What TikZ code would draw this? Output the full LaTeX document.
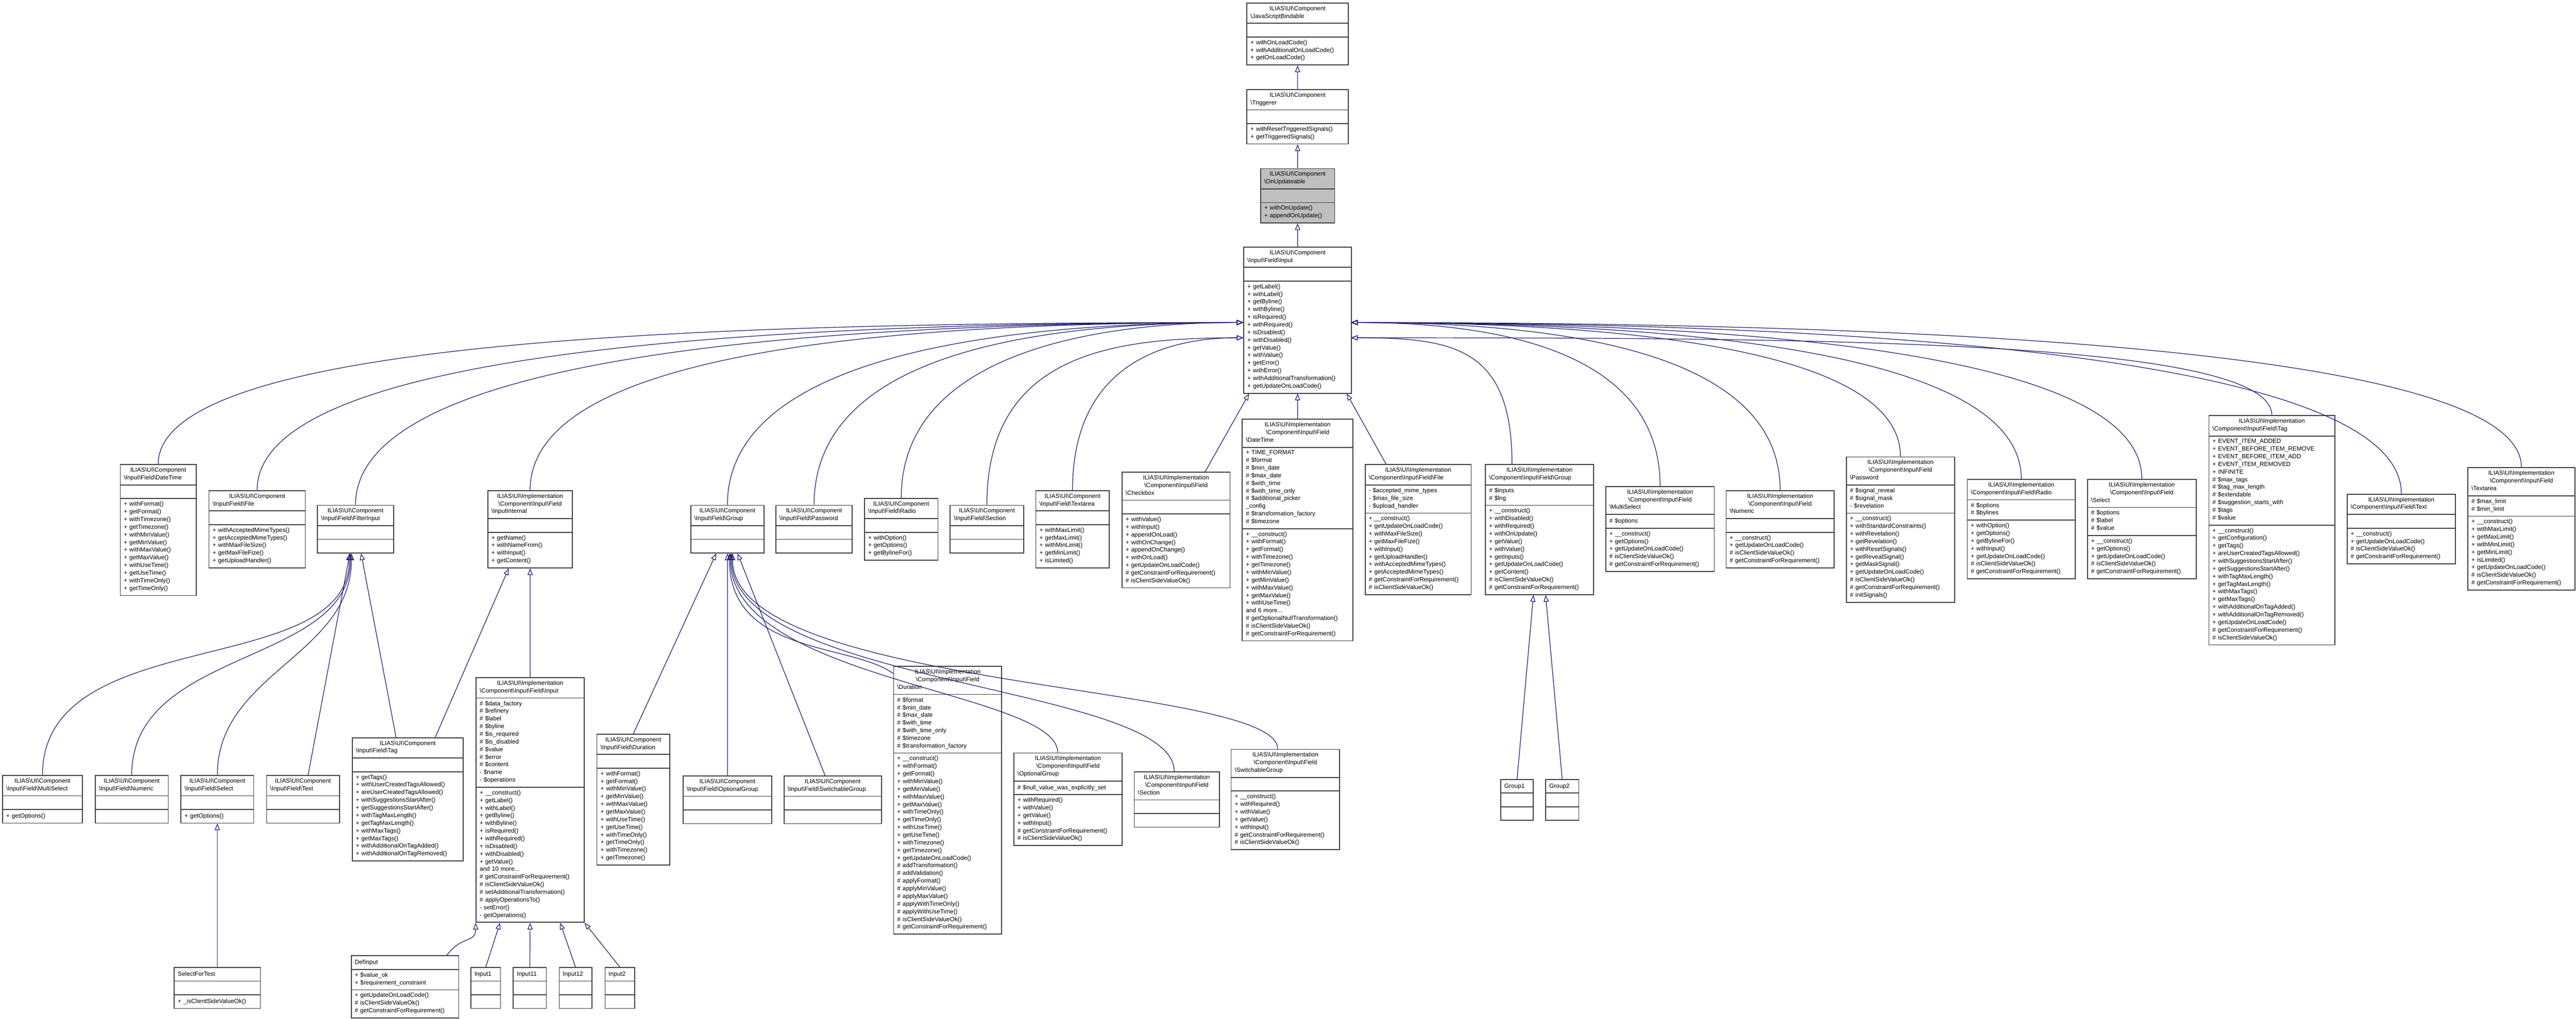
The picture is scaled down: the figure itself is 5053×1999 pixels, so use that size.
\documentclass[tikz,border=0pt]{standalone}
\usepackage{fontspec}
\setmainfont{Liberation Sans}
\usetikzlibrary{shapes.multipart,arrows.meta,calc}
\definecolor{edgec}{RGB}{25,25,112}
\definecolor{hl}{RGB}{191,191,191}
\newcommand\bsl{\textbackslash}
\newcommand\IC{ILIAS\bsl UI\bsl Component}
\newcommand\II{ILIAS\bsl UI\bsl Implementation}
\tikzset{
 cls/.style={rectangle split, rectangle split parts=3, draw=black!75, line width=0.5pt, fill=white,
   anchor=north west, inner xsep=0.07cm, inner ysep=0.05cm, font=\fontsize{3.4}{4.27}\selectfont, text=black},
 inh/.style={draw=edgec, line width=0.35pt, -{Triangle[open,length=0.13cm,width=0.1cm]}}
}
\newcommand\cls[8][]{\pgfmathsetmacro\clsw{(#5-#3)*0.01*28.4527-4}%
\node[cls,text width=\clsw pt,#1] (#2) at (#3,#4) {\centering #6\strut\nodepart{two}\raggedright #7\strut\nodepart{three}\raggedright #8\strut};}
\begin{document}
\begin{tikzpicture}[x=0.01cm,y=-0.01cm]
\useasboundingbox (0,0) rectangle (5053,1999);
% top chain
\cls{JSB}{2445}{5}{2644}{\IC\\\bsl JavaScriptBindable}{}{+ withOnLoadCode()\\+ withAdditionalOnLoadCode()\\+ getOnLoadCode()}
\cls{Trig}{2445}{175}{2644}{\IC\\\bsl Triggerer}{}{+ withResetTriggeredSignals()\\+ getTriggeredSignals()}
\cls[fill=hl]{OnUp}{2472}{330}{2617}{\IC\\\bsl OnUpdateable}{}{+ withOnUpdate()\\+ appendOnUpdate()}
\cls{Input}{2439}{484}{2650}{\IC\\\bsl Input\bsl Field\bsl Input}{}{+ getLabel()\\+ withLabel()\\+ getByline()\\+ withByline()\\+ isRequired()\\+ withRequired()\\+ isDisabled()\\+ withDisabled()\\+ getValue()\\+ withValue()\\+ getError()\\+ withError()\\+ withAdditionalTransformation()\\+ getUpdateOnLoadCode()}
% row 1
\cls{CDateTime}{235}{911}{384}{\IC\\\bsl Input\bsl Field\bsl DateTime}{}{+ withFormat()\\+ getFormat()\\+ withTimezone()\\+ getTimezone()\\+ withMinValue()\\+ getMinValue()\\+ withMaxValue()\\+ getMaxValue()\\+ withUseTime()\\+ getUseTime()\\+ withTimeOnly()\\+ getTimeOnly()}
\cls{CFile}{409}{962}{598}{\IC\\\bsl Input\bsl Field\bsl File}{}{+ withAcceptedMimeTypes()\\+ getAcceptedMimeTypes()\\+ withMaxFileSize()\\+ getMaxFileFize()\\+ getUploadHandler()}
\cls{CFilter}{622}{991}{771}{\IC\\\bsl Input\bsl Field\bsl FilterInput}{}{}
\cls{Internal}{956}{962}{1122}{\II\\\bsl Component\bsl Input\bsl Field\\\bsl InputInternal}{}{+ getName()\\+ withNameFrom()\\+ withInput()\\+ getContent()}
\cls{CGroup}{1354}{991}{1498}{\IC\\\bsl Input\bsl Field\bsl Group}{}{}
\cls{CPassword}{1521}{991}{1671}{\IC\\\bsl Input\bsl Field\bsl Password}{}{}
\cls{CRadio}{1695}{977}{1839}{\IC\\\bsl Input\bsl Field\bsl Radio}{}{+ withOption()\\+ getOptions()\\+ getBylineFor()}
\cls{CSection}{1863}{991}{2007}{\IC\\\bsl Input\bsl Field\bsl Section}{}{}
\cls{CTextarea}{2031}{962}{2175}{\IC\\\bsl Input\bsl Field\bsl Textarea}{}{+ withMaxLimit()\\+ getMaxLimit()\\+ withMinLimit()\\+ getMinLimit()\\+ isLimited()}
\cls{ICheckbox}{2200}{926}{2412}{\II\\\bsl Component\bsl Input\bsl Field\\\bsl Checkbox}{}{+ withValue()\\+ withInput()\\+ appendOnLoad()\\+ withOnChange()\\+ appendOnChange()\\+ withOnLoad()\\+ getUpdateOnLoadCode()\\\# getConstraintForRequirement()\\\# isClientSideValueOk()}
\cls{IDateTime}{2436}{822}{2653}{\II\\\bsl Component\bsl Input\bsl Field\\\bsl DateTime}{+ TIME\_FORMAT\\\# \$format\\\# \$min\_date\\\# \$max\_date\\\# \$with\_time\\\# \$with\_time\_only\\\# \$additional\_picker\\\_config\\\# \$transformation\_factory\\\# \$timezone}{+ \_\_construct()\\+ withFormat()\\+ getFormat()\\+ withTimezone()\\+ getTimezone()\\+ withMinValue()\\+ getMinValue()\\+ withMaxValue()\\+ getMaxValue()\\+ withUseTime()\\and 6 more...\\\# getOptionalNullTransformation()\\\# isClientSideValueOk()\\\# getConstraintForRequirement()}
\cls{IFile}{2677}{911}{2885}{\II\\\bsl Component\bsl Input\bsl Field\bsl File}{- \$accepted\_mime\_types\\- \$max\_file\_size\\- \$upload\_handler}{+ \_\_construct()\\+ getUpdateOnLoadCode()\\+ withMaxFileSize()\\+ getMaxFileFize()\\+ withInput()\\+ getUploadHandler()\\+ withAcceptedMimeTypes()\\+ getAcceptedMimeTypes()\\\# getConstraintForRequirement()\\\# isClientSideValueOk()}
\cls{IGroup}{2913}{911}{3125}{\II\\\bsl Component\bsl Input\bsl Field\bsl Group}{\# \$inputs\\\# \$lng}{+ \_\_construct()\\+ withDisabled()\\+ withRequired()\\+ withOnUpdate()\\+ getValue()\\+ withValue()\\+ getInputs()\\+ getUpdateOnLoadCode()\\+ getContent()\\\# isClientSideValueOk()\\\# getConstraintForRequirement()}
\cls{IMulti}{3149}{954}{3362}{\II\\\bsl Component\bsl Input\bsl Field\\\bsl MultiSelect}{\# \$options}{+ \_\_construct()\\+ getOptions()\\+ getUpdateOnLoadCode()\\\# isClientSideValueOk()\\\# getConstraintForRequirement()}
\cls{INumeric}{3385}{962}{3597}{\II\\\bsl Component\bsl Input\bsl Field\\\bsl Numeric}{}{+ \_\_construct()\\+ getUpdateOnLoadCode()\\\# isClientSideValueOk()\\\# getConstraintForRequirement()}
\cls{IPassword}{3621}{896}{3833}{\II\\\bsl Component\bsl Input\bsl Field\\\bsl Password}{\# \$signal\_reveal\\\# \$signal\_mask\\- \$revelation}{+ \_\_construct()\\+ withStandardConstraints()\\+ withRevelation()\\+ getRevelation()\\+ withResetSignals()\\+ getRevealSignal()\\+ getMaskSignal()\\+ getUpdateOnLoadCode()\\\# isClientSideValueOk()\\\# getConstraintForRequirement()\\\# initSignals()}
\cls{IRadio}{3858}{940}{4070}{\II\\\bsl Component\bsl Input\bsl Field\bsl Radio}{\# \$options\\\# \$bylines}{+ withOption()\\+ getOptions()\\+ getBylineFor()\\+ withInput()\\+ getUpdateOnLoadCode()\\\# isClientSideValueOk()\\\# getConstraintForRequirement()}
\cls{ISelect}{4094}{940}{4307}{\II\\\bsl Component\bsl Input\bsl Field\\\bsl Select}{\# \$options\\\# \$label\\\# \$value}{+ \_\_construct()\\+ getOptions()\\+ getUpdateOnLoadCode()\\\# isClientSideValueOk()\\\# getConstraintForRequirement()}
\cls{ITag}{4332}{815}{4579}{\II\\\bsl Component\bsl Input\bsl Field\bsl Tag}{+ EVENT\_ITEM\_ADDED\\+ EVENT\_BEFORE\_ITEM\_REMOVE\\+ EVENT\_BEFORE\_ITEM\_ADD\\+ EVENT\_ITEM\_REMOVED\\+ INFINITE\\\# \$max\_tags\\\# \$tag\_max\_length\\\# \$extendable\\\# \$suggestion\_starts\_with\\\# \$tags\\\# \$value}{+ \_\_construct()\\+ getConfiguration()\\+ getTags()\\+ areUserCreatedTagsAllowed()\\+ withSuggestionsStartAfter()\\+ getSuggestionsStartAfter()\\+ withTagMaxLength()\\+ getTagMaxLength()\\+ withMaxTags()\\+ getMaxTags()\\+ withAdditionalOnTagAdded()\\+ withAdditionalOnTagRemoved()\\+ getUpdateOnLoadCode()\\\# getConstraintForRequirement()\\\# isClientSideValueOk()}
\cls{IText}{4603}{969}{4816}{\II\\\bsl Component\bsl Input\bsl Field\bsl Text}{}{+ \_\_construct()\\+ getUpdateOnLoadCode()\\\# isClientSideValueOk()\\\# getConstraintForRequirement()}
\cls{ITextarea}{4840}{917}{5050}{\II\\\bsl Component\bsl Input\bsl Field\\\bsl Textarea}{\# \$max\_limit\\\# \$min\_limit}{+ \_\_construct()\\+ withMaxLimit()\\+ getMaxLimit()\\+ withMinLimit()\\+ getMinLimit()\\+ isLimited()\\+ getUpdateOnLoadCode()\\\# isClientSideValueOk()\\\# getConstraintForRequirement()}
% row 2
\cls{CMulti}{4}{1521}{161}{\IC\\\bsl Input\bsl Field\bsl MultiSelect}{}{+ getOptions()}
\cls{CNumeric}{186}{1521}{329}{\IC\\\bsl Input\bsl Field\bsl Numeric}{}{}
\cls{CSelect}{354}{1521}{497}{\IC\\\bsl Input\bsl Field\bsl Select}{}{+ getOptions()}
\cls{CText}{522}{1521}{665}{\IC\\\bsl Input\bsl Field\bsl Text}{}{}
\cls{CTag}{690}{1447}{908}{\IC\\\bsl Input\bsl Field\bsl Tag}{}{+ getTags()\\+ withUserCreatedTagsAllowed()\\+ areUserCreatedTagsAllowed()\\+ withSuggestionsStartAfter()\\+ getSuggestionsStartAfter()\\+ withTagMaxLength()\\+ getTagMaxLength()\\+ withMaxTags()\\+ getMaxTags()\\+ withAdditionalOnTagAdded()\\+ withAdditionalOnTagRemoved()}
\cls{IInput}{933}{1329}{1145}{\II\\\bsl Component\bsl Input\bsl Field\bsl Input}{\# \$data\_factory\\\# \$refinery\\\# \$label\\\# \$byline\\\# \$is\_required\\\# \$is\_disabled\\\# \$value\\\# \$error\\\# \$content\\- \$name\\- \$operations}{+ \_\_construct()\\+ getLabel()\\+ withLabel()\\+ getByline()\\+ withByline()\\+ isRequired()\\+ withRequired()\\+ isDisabled()\\+ withDisabled()\\+ getValue()\\and 10 more...\\\# getConstraintForRequirement()\\\# isClientSideValueOk()\\\# setAdditionalTransformation()\\\# applyOperationsTo()\\- setError()\\- getOperations()}
\cls{CDuration}{1170}{1440}{1313}{\IC\\\bsl Input\bsl Field\bsl Duration}{}{+ withFormat()\\+ getFormat()\\+ withMinValue()\\+ getMinValue()\\+ withMaxValue()\\+ getMaxValue()\\+ withUseTime()\\+ getUseTime()\\+ withTimeOnly()\\+ getTimeOnly()\\+ withTimezone()\\+ getTimezone()}
\cls{COptGroup}{1339}{1522}{1513}{\IC\\\bsl Input\bsl Field\bsl OptionalGroup}{}{}
\cls{CSwGroup}{1537}{1522}{1728}{\IC\\\bsl Input\bsl Field\bsl SwitchableGroup}{}{}
\cls{IDuration}{1752}{1307}{1964}{\II\\\bsl Component\bsl Input\bsl Field\\\bsl Duration}{\# \$format\\\# \$min\_date\\\# \$max\_date\\\# \$with\_time\\\# \$with\_time\_only\\\# \$timezone\\\# \$transformation\_factory}{+ \_\_construct()\\+ withFormat()\\+ getFormat()\\+ withMinValue()\\+ getMinValue()\\+ withMaxValue()\\+ getMaxValue()\\+ withTimeOnly()\\+ getTimeOnly()\\+ withUseTime()\\+ getUseTime()\\+ withTimezone()\\+ getTimezone()\\+ getUpdateOnLoadCode()\\\# addTransformation()\\\# addValidation()\\\# applyFormat()\\\# applyMinValue()\\\# applyMaxValue()\\\# applyWithTimeOnly()\\\# applyWithUseTime()\\\# isClientSideValueOk()\\\# getConstraintForRequirement()}
\cls{IOptGroup}{1988}{1477}{2200}{\II\\\bsl Component\bsl Input\bsl Field\\\bsl OptionalGroup}{\# \$null\_value\_was\_explicitly\_set}{+ withRequired()\\+ withValue()\\+ getValue()\\+ withInput()\\\# getConstraintForRequirement()\\\# isClientSideValueOk()}
\cls{ISection}{2224}{1514}{2391}{\II\\\bsl Component\bsl Input\bsl Field\\\bsl Section}{}{}
\cls{ISwGroup}{2414}{1470}{2627}{\II\\\bsl Component\bsl Input\bsl Field\\\bsl SwitchableGroup}{}{+ \_\_construct()\\+ withRequired()\\+ withValue()\\+ getValue()\\+ withInput()\\\# getConstraintForRequirement()\\\# isClientSideValueOk()}
\cls{Group1}{2943}{1529}{3007}{Group1}{}{}
\cls{Group2}{3031}{1529}{3096}{Group2}{}{}
% row 3
\cls{SFT}{341}{1898}{510}{SelectForTest}{}{+ \_isClientSideValueOk()}
\cls{DefInput}{688}{1875}{899}{DefInput}{+ \$value\_ok\\+ \$requirement\_constraint}{+ getUpdateOnLoadCode()\\\# isClientSideValueOk()\\\# getConstraintForRequirement()}
\cls{Input1}{923}{1898}{981}{Input1}{}{}
\cls{Input11}{1006}{1898}{1071}{Input11}{}{}
\cls{Input12}{1096}{1898}{1160}{Input12}{}{}
\cls{Input2}{1186}{1898}{1244}{Input2}{}{}
% edges
\coordinate (inW) at (2439,633); \coordinate (inW2) at (2439,663);
\coordinate (inE) at (2650,633); \coordinate (inE2) at (2650,663);
\draw[inh] (Trig.north) -- (JSB.south);
\draw[inh] (OnUp.north) -- (Trig.south);
\draw[inh] (Input.north) -- (OnUp.south);
\draw[inh] (CDateTime.north) .. controls +(0,-250) and +(-1000,0) .. (inW);
\draw[inh] (CFile.north) .. controls +(0,-280) and +(-900,0) .. (inW);
\draw[inh] (CFilter.north) .. controls +(0,-300) and +(-800,0) .. (inW);
\draw[inh] (Internal.north) .. controls +(0,-280) and +(-650,0) .. (inW);
\draw[inh] (CGroup.north) .. controls +(0,-300) and +(-450,0) .. (inW);
\draw[inh] (CPassword.north) .. controls +(0,-300) and +(-400,0) .. (inW);
\draw[inh] (CRadio.north) .. controls +(0,-280) and +(-300,0) .. (inW);
\draw[inh] (CSection.north) .. controls +(0,-300) and +(-250,0) .. (inW2);
\draw[inh] (CTextarea.north) .. controls +(0,-250) and +(-150,0) .. (inW2);
\draw[inh] ($(ICheckbox.north)+(57,0)$) -- ($(Input.south west)+(11,0)$);
\draw[inh] (IDateTime.north) -- (Input.south);
\draw[inh] ($(IFile.north)+(-63,0)$) -- ($(Input.south east)+(-10,0)$);
\draw[inh] ($(IGroup.north)+(-54,0)$) .. controls +(0,-230) and +(200,0) .. (inE2);
\draw[inh] (IMulti.north) .. controls +(0,-260) and +(300,0) .. (inE);
\draw[inh] (INumeric.north) .. controls +(0,-270) and +(420,0) .. (inE);
\draw[inh] (IPassword.north) .. controls +(0,-210) and +(540,0) .. (inE);
\draw[inh] (IRadio.north) .. controls +(0,-250) and +(650,0) .. (inE);
\draw[inh] (ISelect.north) .. controls +(0,-250) and +(770,0) .. (inE);
\draw[inh] (ITag.north) .. controls +(0,-150) and +(900,0) .. (inE2);
\draw[inh] (IText.north) .. controls +(0,-270) and +(1000,0) .. (inE);
\draw[inh] (ITextarea.north) .. controls +(0,-230) and +(1150,0) .. (inE);
% FilterInput children
\draw[inh] (CMulti.north) .. controls +(0,-300) and +(0,250) .. ($(CFilter.south)+(-12,0)$);
\draw[inh] (CNumeric.north) .. controls +(0,-250) and +(0,220) .. ($(CFilter.south)+(-10,0)$);
\draw[inh] (CSelect.north) .. controls +(0,-200) and +(0,200) .. ($(CFilter.south)+(-8,0)$);
\draw[inh] ($(CText.north)+(10,0)$) -- ($(CFilter.south)+(-11,0)$);
\draw[inh] ($(CTag.north)+(-23,0)$) -- ($(CFilter.south)+(11,0)$);
\draw[inh] ($(CTag.north)+(54,0)$) -- ($(Internal.south)+(-42,0)$);
\draw[inh] (IInput.north) -- (Internal.south);
\draw[inh] (SFT.north) -- (CSelect.south);
% Impl Input children
\draw[inh] ($(DefInput.north)+(82,0)$) .. controls +(30,-40) and +(0,40) .. (IInput.south west);
\draw[inh] (Input1.north) -- ($(IInput.south)+(-59,0)$);
\draw[inh] (Input11.north) -- (IInput.south);
\draw[inh] (Input12.north) -- ($(IInput.south)+(59,0)$);
\draw[inh] (Input2.north) -- (IInput.south east);
% Group children
\draw[inh] (CDuration.north) -- ($(CGroup.south)+(-22,0)$);
\draw[inh] (COptGroup.north) -- (CGroup.south);
\draw[inh] ($(CSwGroup.north)+(-15,0)$) -- ($(CGroup.south)+(20,0)$);
\draw[inh] ($(IDuration.north west)+(0,15)$) .. controls +(-80,-60) and +(0,200) .. ($(CGroup.south)+(4,0)$);
\draw[inh] ($(IOptGroup.north)+(-20,0)$) .. controls +(0,-120) and +(0,250) .. ($(CGroup.south)+(6,0)$);
\draw[inh] ($(ISection.north)+(-5,0)$) .. controls +(0,-170) and +(0,260) .. ($(CGroup.south)+(8,0)$);
\draw[inh] ($(ISwGroup.north)+(-15,0)$) .. controls +(0,-130) and +(0,270) .. ($(CGroup.south)+(10,0)$);
\draw[inh] (Group1.north) -- ($(IGroup.south)+(-12,0)$);
\draw[inh] (Group2.north) -- ($(IGroup.south)+(12,0)$);
\end{tikzpicture}
\end{document}
